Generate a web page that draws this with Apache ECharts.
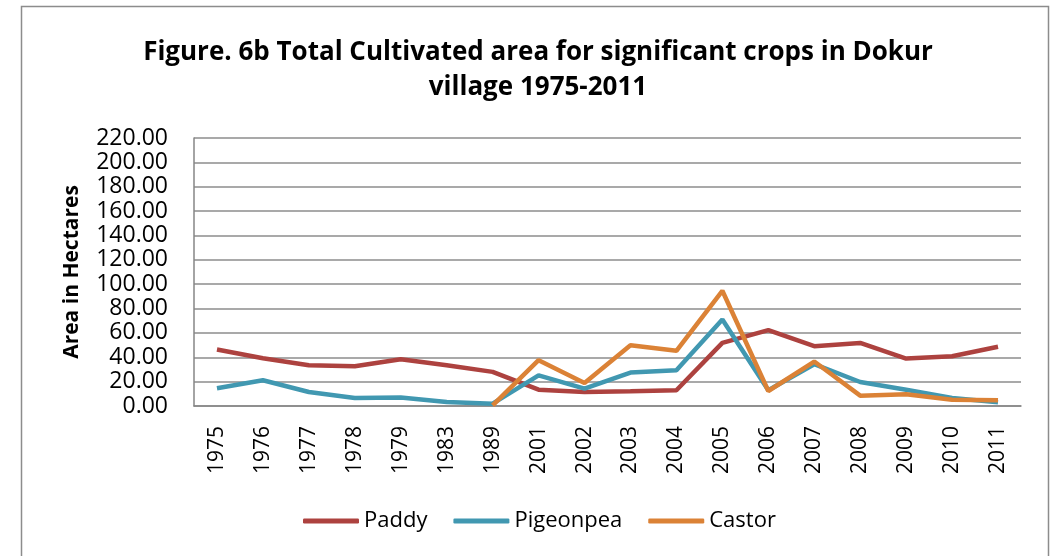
<!DOCTYPE html>
<html>
<head>
<meta charset="utf-8">
<script src="https://cdn.jsdelivr.net/npm/echarts@6/dist/echarts.min.js"></script>
<style>
  html, body { margin: 0; padding: 0; background: #fff; }
  #main { width: 1050px; height: 556px; }
</style>
</head>
<body>
<div id="main"></div>
<script>
// data
var years = ['1975', '1976', '1977', '1978', '1979', '1983', '1989', '2001', '2002', '2003',
  '2004', '2005', '2006', '2007', '2008', '2009', '2010', '2011'];
var paddy = [46.4, 39.2, 33.5, 32.6, 38.4, 33.5, 28.0, 13.4, 11.5, 12.1,
  12.9, 51.8, 62.3, 49.1, 51.8, 38.9, 40.9, 48.6];
var pigeonpea = [14.5, 21.1, 11.5, 6.6, 6.9, 3.3, 1.9, 25.2, 14.3, 27.4,
  29.4, 71.0, 12.9, 34.3, 19.7, 13.4, 6.6, 3.0];
var castor = [null, null, null, null, null, null, 0.5, 37.6, 18.9, 49.9,
  45.3, 94.6, 12.3, 36.5, 8.5, 9.6, 5.2, 4.7];

var myChart = echarts.init(document.getElementById('main'));

var font = '"Open Sans", sans-serif';

function lineSeries(name, data, color) {
  return {
    name: name,
    type: 'line',
    data: data,
    symbol: 'none',
    lineStyle: { color: color, width: 4.5 },
    itemStyle: { color: color },
    connectNulls: false
  };
}

var option = {
  animation: false,
  backgroundColor: '#fff',
  graphic: [
    {
      type: 'rect',
      shape: { x: 21.5, y: 6.5, width: 1027, height: 570 },
      style: { fill: 'none', stroke: '#8c8c8c', lineWidth: 1.5 },
      silent: true
    },
    {
      type: 'text',
      x: 538, y: 70,
      style: {
        text: 'Figure. 6b Total Cultivated area for significant crops in Dokur\nvillage 1975-2011',
        font: 'bold 26px ' + font,
        fill: '#000',
        align: 'center',
        verticalAlign: 'middle',
        lineHeight: 35
      }
    }
  ],
  grid: { left: 194, right: 29, top: 138, bottom: 150 },
  legend: {
    left: 298,
    top: 505,
    icon: 'roundRect',
    itemWidth: 56,
    itemHeight: 5,
    itemGap: 26,
    textStyle: { fontFamily: font, fontSize: 22, color: '#000' },
    data: ['Paddy', 'Pigeonpea', 'Castor']
  },
  xAxis: {
    type: 'category',
    data: years,
    boundaryGap: true,
    axisLine: { lineStyle: { color: '#868686', width: 1.5 } },
    axisTick: { show: false },
    axisLabel: {
      rotate: 90,
      margin: 20,
      fontFamily: font,
      fontSize: 21,
      color: '#000',
      interval: 0
    }
  },
  yAxis: {
    type: 'value',
    min: 0,
    max: 220,
    interval: 20,
    name: 'Area in Hectares',
    nameLocation: 'middle',
    nameGap: 111,
    nameRotate: 90,
    nameTextStyle: { fontFamily: font, fontSize: 21, fontWeight: 'bold', color: '#000' },
    axisLine: { show: true, lineStyle: { color: '#868686', width: 1.5 } },
    axisTick: { show: false },
    splitLine: { lineStyle: { color: '#8c8c8c', width: 1.5 } },
    axisLabel: {
      margin: 26,
      fontFamily: font,
      fontSize: 23,
      color: '#000',
      formatter: function (v) { return v.toFixed(2); }
    }
  },
  series: [
    lineSeries('Paddy', paddy, '#AD423F'),
    lineSeries('Pigeonpea', pigeonpea, '#4198B1'),
    lineSeries('Castor', castor, '#DB8236')
  ]
};

myChart.setOption(option);
</script>
</body>
</html>
